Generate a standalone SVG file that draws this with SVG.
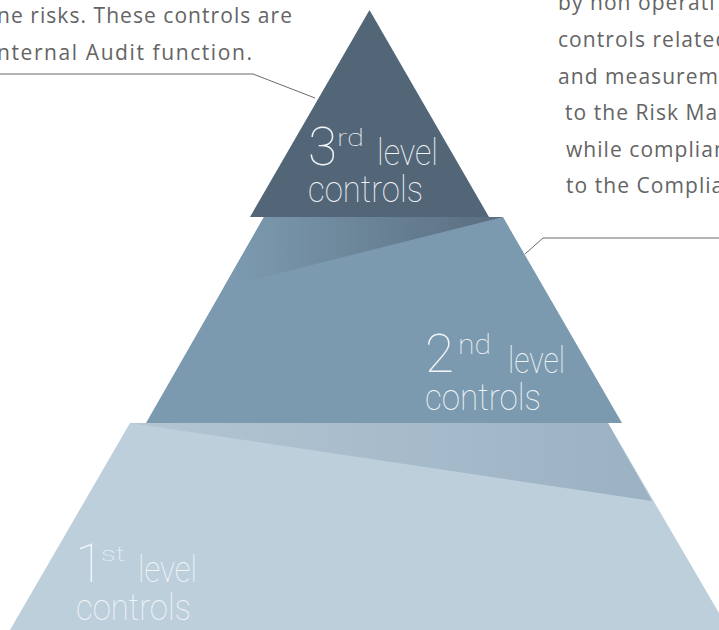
<svg xmlns="http://www.w3.org/2000/svg" width="719" height="630" viewBox="0 0 719 630">
  <defs>
    <linearGradient id="g2" gradientUnits="userSpaceOnUse" x1="230" y1="0" x2="503" y2="0">
      <stop offset="0" stop-color="#7c9bb0"/>
      <stop offset="1" stop-color="#5a6d80"/>
    </linearGradient>
    <linearGradient id="g1" gradientUnits="userSpaceOnUse" x1="130" y1="0" x2="652" y2="0">
      <stop offset="0" stop-color="#b3c5d2"/>
      <stop offset="1" stop-color="#9bb2c4"/>
    </linearGradient>
    <style>
      .body { font-family: "Open Sans", "Liberation Sans", sans-serif; font-size: 21px; fill: #646464; letter-spacing: 1.05px; }
      .lbl { font-family: Roboto, Inter, Lato, "Liberation Sans", sans-serif; font-weight: 100; fill: #f2f5f8; }
      .big { font-size: 53px; }
      .word { font-size: 37px; }
      .conn { fill: none; stroke: #6a6a6a; stroke-width: 1; }
    </style>
  </defs>

  <rect width="719" height="630" fill="#ffffff"/>

  <g id="callout-left">
    <text class="body" x="-3" y="23" textLength="296">ne risks. These controls are</text>
    <text class="body" x="-3" y="59.5" textLength="256">nternal Audit function.</text>
  </g>

  <g id="callout-right">
    <text class="body" x="558" y="10">by non operati</text>
    <text class="body" x="558" y="47">controls related</text>
    <text class="body" x="558" y="83.5">and measurem</text>
    <text class="body" x="565" y="120">to the Risk Ma</text>
    <text class="body" x="566" y="156.5">while complian</text>
    <text class="body" x="566" y="193">to the Complia</text>
  </g>

  <g id="level1">
    <polygon points="130,423 608,423 729,630 10,630" fill="#bdcfdb"/>
    <polygon points="130,423 608,423 652,501" fill="url(#g1)"/>
    <text class="lbl big" x="75" y="582">1</text>
    <text class="lbl" x="101" y="561" font-size="20" textLength="24" lengthAdjust="spacingAndGlyphs">st</text>
    <text class="lbl word" x="138" y="582" textLength="59" lengthAdjust="spacingAndGlyphs">level</text>
    <text class="lbl word" x="76" y="619.5" textLength="115" lengthAdjust="spacingAndGlyphs">controls</text>
  </g>

  <g id="level2">
    <polygon points="264,217 503,217 622,423 146,423" fill="#7b9aaf"/>
    <polygon points="264,217 503,217 224,287" fill="url(#g2)"/>
    <text class="lbl big" x="425" y="372">2</text>
    <text class="lbl" x="458" y="353.5" font-size="27" textLength="33" lengthAdjust="spacingAndGlyphs">nd</text>
    <text class="lbl word" x="508" y="373" textLength="57" lengthAdjust="spacingAndGlyphs">level</text>
    <text class="lbl word" x="425" y="409.5" textLength="116" lengthAdjust="spacingAndGlyphs">controls</text>
  </g>

  <g id="level3">
    <polygon points="369.5,10 489,217 250,217" fill="#536678"/>
    <text class="lbl big" x="308" y="165">3</text>
    <text class="lbl" x="337" y="146" font-size="24" textLength="27" lengthAdjust="spacingAndGlyphs">rd</text>
    <text class="lbl word" x="377" y="165" textLength="61" lengthAdjust="spacingAndGlyphs">level</text>
    <text class="lbl word" x="308" y="202" textLength="115" lengthAdjust="spacingAndGlyphs">controls</text>
  </g>

  <g id="connectors">
    <polyline class="conn" points="0,74 253,74 315,98"/>
    <polyline class="conn" points="719,238 543,238 525,254"/>
  </g>
</svg>
